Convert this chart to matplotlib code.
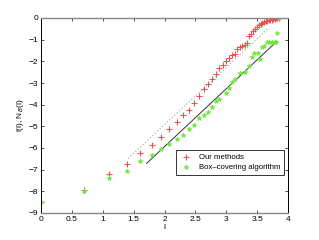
import numpy as np
import matplotlib
matplotlib.use("Agg")
import matplotlib.pyplot as plt

plt.rcParams['font.family'] = ['Liberation Sans', 'DejaVu Sans']

# Our methods (red +)
rx = [0, 0.693, 1.099, 1.386, 1.609, 1.792, 1.946, 2.079, 2.197, 2.303,
      2.398, 2.485, 2.565, 2.639, 2.708, 2.773, 2.833, 2.890, 2.944, 2.996,
      3.045, 3.091, 3.135, 3.178, 3.219, 3.258, 3.296, 3.332, 3.367, 3.401,
      3.434, 3.466, 3.497, 3.526, 3.555, 3.584, 3.611, 3.638, 3.664, 3.689,
      3.714, 3.738, 3.761, 3.784, 3.807, 3.829, 3.850]
ry = [-8.5, -7.95, -7.2, -6.75, -6.22, -5.87, -5.48, -5.14, -4.78, -4.49,
      -4.23, -3.92, -3.58, -3.27, -3.03, -2.80, -2.58, -2.33, -2.18, -1.98,
      -1.84, -1.72, -1.65, -1.45, -1.36, -1.30, -1.25, -1.14, -0.83, -0.72,
      -0.62, -0.50, -0.40, -0.33, -0.27, -0.23, -0.19, -0.16, -0.13, -0.11,
      -0.09, -0.07, -0.05, -0.04, -0.02, -0.01, 0.0]

# Box-covering algorithm (green *)
gx = [0, 0.693, 1.099, 1.386, 1.609, 1.792, 1.946, 2.079, 2.197, 2.303,
      2.398, 2.485, 2.565, 2.639, 2.708, 2.773, 2.833, 2.890, 2.996, 3.045,
      3.091, 3.135, 3.219, 3.296, 3.367, 3.42, 3.45, 3.52, 3.55, 3.584,
      3.611, 3.664, 3.689, 3.738, 3.784, 3.807, 3.829, 3.850]
gy = [-8.5, -8.0, -7.38, -7.04, -6.62, -6.34, -6.03, -5.80, -5.58, -5.40,
      -5.13, -4.93, -4.63, -4.49, -4.32, -4.09, -3.85, -3.72, -3.48, -3.25,
      -2.97, -2.83, -2.52, -2.48, -2.20, -1.80, -1.60, -1.60, -1.88, -1.32,
      -1.29, -1.09, -1.09, -1.09, -1.09, -1.09, -0.70, 0.0]

# fitted lines (end points)
fit_red_x = [1.41, 3.68]
fit_red_y = [-6.48, -0.48]
fit_green_x = [1.71, 3.81]
fit_green_y = [-6.71, -1.10]

fig = plt.figure(figsize=(3.19, 2.40), dpi=100)
ax = fig.add_axes([0.1285, 0.1125, 0.7745, 0.8125])

ax.plot(fit_red_x, fit_red_y, color='#b0b0b0', linestyle=':', linewidth=0.9)
ax.plot(fit_green_x, fit_green_y, color='#333333', linestyle='-', linewidth=0.7)
ax.plot(rx, ry, linestyle='none', marker='+', color='#ff4545', markersize=4,
        markeredgewidth=0.7, label='Our methods')
ax.plot(gx, gy, linestyle='none', marker='*', color='#66ee33', markersize=3.5,
        markeredgewidth=0.5, label='Box\u2013covering algorithm')

ax.set_xlim(0, 4)
ax.set_ylim(-9, 0)
ax.set_xticks(np.arange(0, 4.01, 0.5))
ax.set_xticklabels(['0', '0.5', '1', '1.5', '2', '2.5', '3', '3.5', '4'])
ax.set_yticks(np.arange(-9, 0.1, 1))
ax.set_yticklabels(['\u22129', '\u22128', '\u22127', '\u22126', '\u22125',
                    '\u22124', '\u22123', '\u22122', '\u22121', '0'])
ax.tick_params(direction='in', length=2.5, width=0.5, labelsize=6,
               top=True, right=True, pad=2)
for side in ['left', 'right']:
    ax.spines[side].set_color('black')
    ax.spines[side].set_linewidth(0.7)
for side in ['top', 'bottom']:
    ax.spines[side].set_color('#888888')
    ax.spines[side].set_linewidth(1.0)

ax.set_xlabel('l', fontsize=6, labelpad=1)
ax.set_ylabel('l(l), N$_B$(l)', fontsize=6, labelpad=2)

leg = ax.legend(loc='lower right', bbox_to_anchor=(0.984, 0.195), fontsize=5.6,
                frameon=True, fancybox=False, edgecolor='black',
                borderpad=0.45, handletextpad=0.9, labelspacing=0.35,
                handlelength=1.6, borderaxespad=0)
leg.get_frame().set_linewidth(0.7)

fig.savefig('out.png', dpi=100)
